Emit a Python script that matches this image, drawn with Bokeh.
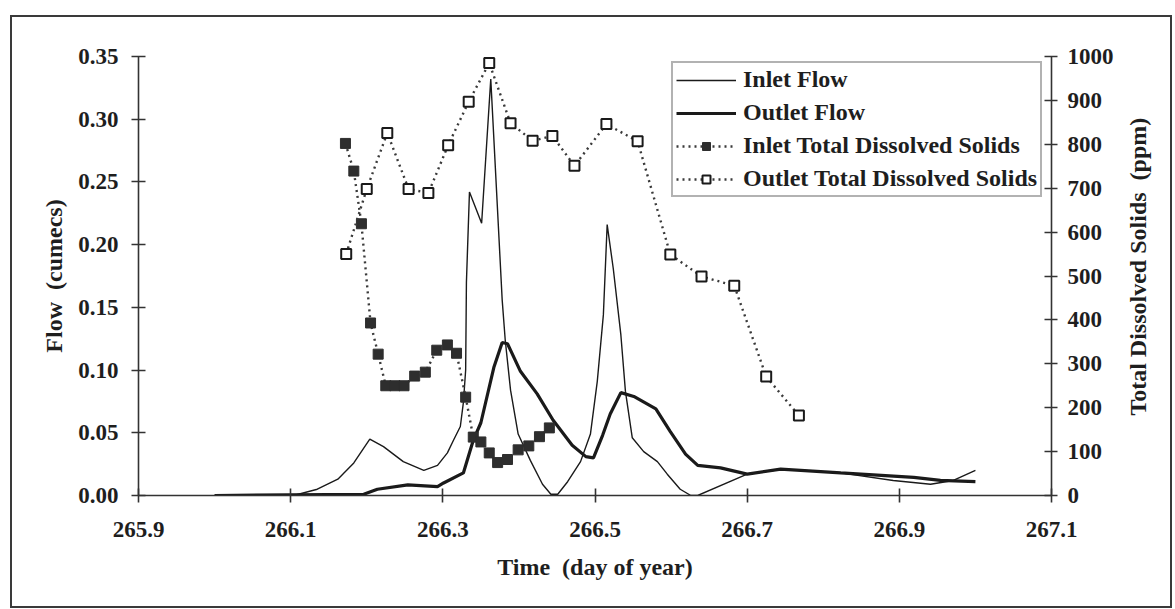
import math
from bokeh.plotting import figure
from bokeh.models import (Range1d, LinearAxis, FixedTicker, PrintfTickFormatter,
                          Legend, LegendItem)
from bokeh.embed import file_html
from bokeh.resources import INLINE

# ---------------- data ----------------
inlet_flow_time = [266.000, 266.104, 266.135, 266.162, 266.183, 266.204, 266.222, 266.248,
                   266.275, 266.293, 266.306, 266.314, 266.323, 266.327, 266.330, 266.331,
                   266.335, 266.351, 266.363, 266.378, 266.382, 266.389, 266.399, 266.415,
                   266.431, 266.442, 266.451, 266.464, 266.481, 266.494, 266.503, 266.511,
                   266.516, 266.524, 266.534, 266.540, 266.549, 266.564, 266.582, 266.595,
                   266.612, 266.626, 266.635, 266.700, 266.748, 266.823, 266.892, 266.941,
                   266.971, 267.000]
inlet_flow = [0.000, 0.000, 0.005, 0.013, 0.026, 0.045, 0.039, 0.027,
              0.020, 0.024, 0.034, 0.044, 0.055, 0.074, 0.100, 0.170,
              0.242, 0.217, 0.332, 0.156, 0.124, 0.084, 0.049, 0.028,
              0.009, 0.001, 0.001, 0.011, 0.027, 0.049, 0.091, 0.144,
              0.216, 0.181, 0.128, 0.083, 0.046, 0.035, 0.027, 0.017,
              0.005, 0.000, 0.000, 0.017, 0.021, 0.018, 0.012, 0.009,
              0.012, 0.020]

outlet_flow_time = [266.000, 266.196, 266.214, 266.254, 266.293, 266.301, 266.327, 266.340,
                    266.350, 266.367, 266.378, 266.385, 266.402, 266.424, 266.445, 266.470,
                    266.488, 266.498, 266.510, 266.520, 266.534, 266.551, 266.580, 266.599,
                    266.619, 266.635, 266.665, 266.700, 266.744, 266.823, 266.919, 266.954,
                    267.000]
outlet_flow = [0.000, 0.001, 0.005, 0.0085, 0.007, 0.010, 0.018, 0.044,
               0.058, 0.102, 0.122, 0.121, 0.099, 0.081, 0.060, 0.040,
               0.031, 0.030, 0.048, 0.065, 0.082, 0.079, 0.069, 0.051,
               0.033, 0.024, 0.022, 0.017, 0.021, 0.018, 0.0145, 0.012,
               0.011]

inlet_tds_time = [266.172, 266.183, 266.193, 266.205, 266.215, 266.225, 266.237, 266.249,
                  266.263, 266.277, 266.292, 266.306, 266.318, 266.330, 266.340, 266.350,
                  266.361, 266.372, 266.385, 266.399, 266.413, 266.427, 266.440]
inlet_tds = [802, 739, 619, 393, 322, 250, 250, 250,
             272, 281, 331, 343, 324, 224, 133, 122,
             97, 75, 82, 104, 113, 134, 154]

outlet_tds_time = [266.173, 266.200, 266.227, 266.255, 266.281, 266.307, 266.334, 266.361,
                   266.389, 266.418, 266.444, 266.473, 266.515, 266.556, 266.599, 266.640,
                   266.683, 266.725, 266.768]
outlet_tds = [550, 698, 826, 698, 689, 798, 897, 985,
              848, 808, 819, 751, 846, 807, 549, 499,
              478, 271, 182]

x_ticks = [265.9, 266.1, 266.3, 266.5, 266.7, 266.9, 267.1]
flow_ticks = [0.0, 0.05, 0.10, 0.15, 0.20, 0.25, 0.30, 0.35]
tds_ticks = [0, 100, 200, 300, 400, 500, 600, 700, 800, 900, 1000]

labels = ["Inlet Flow", "Outlet Flow", "Inlet Total Dissolved Solids",
          "Outlet Total Dissolved Solids"]
x_title = "Time\u00a0 (day of year)"
left_title = "Flow\u00a0 (cumecs)"
right_title = "Total Dissolved Solids\u00a0 (ppm)"

# ---------------- styling ----------------
FONT = "Liberation Serif"
FS = "23px"      # tick labels
FS_T = "24px"    # titles and legend
INK = "#1e1e1e"
AX = "#333333"
RIGHT_TITLE_AT = 182   # where the rotated right title starts, in ppm units

p = figure(width=1175, height=609, output_backend="svg", toolbar_location=None,
           x_range=Range1d(265.9, 267.1), y_range=Range1d(0, 0.35),
           min_border_left=138, min_border_right=124,
           min_border_top=56, min_border_bottom=114)
p.extra_y_ranges = {"tds": Range1d(0, 1000)}
p.xgrid.visible = False
p.ygrid.visible = False
p.outline_line_color = None
p.background_fill_color = "white"
p.border_fill_alpha = 0
# outer frame of the picture, drawn as four thin CSS lines behind the canvas
p.styles = {"background":
            "linear-gradient(#3a3a3a,#3a3a3a) 10px 15px / 2px 593px no-repeat,"
            "linear-gradient(#3a3a3a,#3a3a3a) 10px 15px / 1162px 2px no-repeat,"
            "linear-gradient(#3a3a3a,#3a3a3a) 1170px 15px / 2px 593px no-repeat,"
            "linear-gradient(#3a3a3a,#3a3a3a) 10px 606px / 1162px 2px no-repeat,"
            "white"}


def style_axis(ax, standoff):
    ax.axis_line_color = AX
    ax.axis_line_width = 1.6
    ax.major_tick_line_color = AX
    ax.major_tick_line_width = 1.6
    ax.major_tick_in = 7
    ax.major_tick_out = 7
    ax.minor_tick_line_color = None
    ax.major_label_text_font = FONT
    ax.major_label_text_font_style = "bold"
    ax.major_label_text_font_size = FS
    ax.major_label_text_color = INK
    ax.major_label_standoff = standoff


def style_title(ax, title, title_standoff):
    ax.axis_label = title
    ax.axis_label_text_font = FONT
    ax.axis_label_text_font_style = "bold"
    ax.axis_label_text_font_size = FS_T
    ax.axis_label_text_color = INK
    ax.axis_label_standoff = title_standoff


xa = p.xaxis[0]
xa.ticker = FixedTicker(ticks=x_ticks)
xa.formatter = PrintfTickFormatter(format="%.1f")
style_axis(xa, 19)
style_title(xa, x_title, 14)

ya = p.yaxis[0]
ya.ticker = FixedTicker(ticks=flow_ticks)
ya.formatter = PrintfTickFormatter(format="%.2f")
style_axis(ya, 13)
style_title(ya, left_title, 8)

ra = LinearAxis(y_range_name="tds", ticker=FixedTicker(ticks=tds_ticks),
                formatter=PrintfTickFormatter(format="%d"))
style_axis(ra, 10)
ra.major_tick_out = 6
p.add_layout(ra, "right")

# right-hand title: reads bottom-to-top, carried by a bare helper axis
ta = LinearAxis(y_range_name="tds", ticker=FixedTicker(ticks=[RIGHT_TITLE_AT]),
                major_label_overrides={RIGHT_TITLE_AT: right_title},
                major_label_orientation=math.pi / 2)
ta.axis_line_color = None
ta.major_tick_line_color = None
ta.major_tick_in = 0
ta.major_tick_out = 0
ta.minor_tick_line_color = None
ta.major_label_text_font = FONT
ta.major_label_text_font_style = "bold"
ta.major_label_text_font_size = FS_T
ta.major_label_text_color = INK
ta.major_label_standoff = 22
p.add_layout(ta, "right")

# ---------------- glyphs ----------------
r_in = p.line(inlet_flow_time, inlet_flow, line_color="#1a1a1a", line_width=1.4)
r_out = p.line(outlet_flow_time, outlet_flow, line_color="#1a1a1a", line_width=3.2)

r_itl = p.line(inlet_tds_time, inlet_tds, y_range_name="tds", line_color="#3a3a3a",
               line_width=2.4, line_dash="2 4")
r_itm = p.scatter(inlet_tds_time, inlet_tds, y_range_name="tds", marker="square",
                  size=10, fill_color="#2e2e2e", line_color="#2e2e2e", line_width=1)
r_otl = p.line(outlet_tds_time, outlet_tds, y_range_name="tds", line_color="#3a3a3a",
               line_width=2.4, line_dash="2 4")
r_otm = p.scatter(outlet_tds_time, outlet_tds, y_range_name="tds", marker="square",
                  size=10, fill_color="white", line_color="#1a1a1a", line_width=2)

legend = Legend(items=[LegendItem(label=labels[0], renderers=[r_in]),
                       LegendItem(label=labels[1], renderers=[r_out]),
                       LegendItem(label=labels[2], renderers=[r_itl, r_itm]),
                       LegendItem(label=labels[3], renderers=[r_otl, r_otm])],
                location=(533, 298))
legend.label_text_font = FONT
legend.label_text_font_style = "bold"
legend.label_text_font_size = FS_T
legend.label_text_color = INK
legend.glyph_width = 60
legend.glyph_height = 20
legend.label_height = 20
legend.label_standoff = 7
legend.spacing = 6
legend.padding = 3
legend.margin = 0
legend.border_line_color = "#666666"
legend.border_line_width = 2
legend.background_fill_color = "white"
legend.background_fill_alpha = 1
p.add_layout(legend)

open("out.html", "w").write(file_html(p, INLINE))
